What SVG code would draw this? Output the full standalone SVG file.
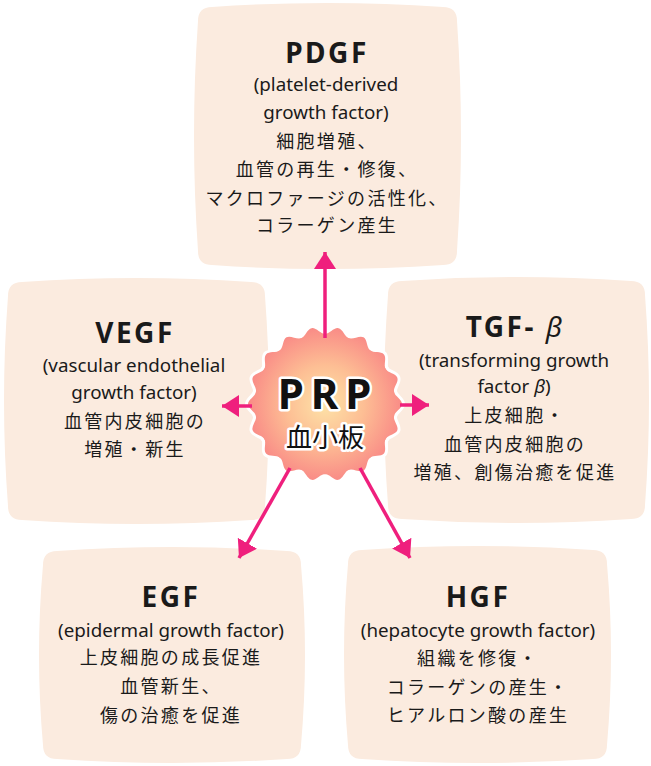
<svg xmlns="http://www.w3.org/2000/svg" width="651" height="766" viewBox="0 0 651 766">
<style>
.box{fill:#fbebdf}
.t{font-family:"Noto Sans","Noto Sans CJK JP",sans-serif;fill:#1a1a1a;text-anchor:middle}
.title{font-size:28px;font-weight:bold;letter-spacing:2.5px}
.en{font-size:18.8px}
.jp{font-family:"Noto Sans CJK JP",sans-serif;font-size:18px;letter-spacing:2.3px}
.beta{font-style:italic;font-weight:normal}
.conn{stroke:#ef1f7d;stroke-width:3.5;fill:none;marker-end:url(#ah)}
.prp{font-family:"Noto Sans","Noto Sans CJK JP",sans-serif;text-anchor:middle;fill:#111;stroke:#fff;stroke-width:5;stroke-linejoin:round;paint-order:stroke}
</style>
<defs>
<marker id="ah" viewBox="0 0 17 22" refX="17" refY="11" markerWidth="17" markerHeight="22" markerUnits="userSpaceOnUse" orient="auto">
<path d="M0,0 L17,11 L0,22 Z" fill="#ef1f7d"/>
</marker>
<radialGradient id="burstGrad" gradientUnits="userSpaceOnUse" cx="0" cy="0" r="78">
<stop offset="0" stop-color="#fde3a8"/>
<stop offset="0.5" stop-color="#fdbe94"/>
<stop offset="1" stop-color="#f98a86"/>
</radialGradient>
<path id="bump" d="M68.94,-12.16 C69.72,-7.73 77,-4.5 77,0 C77,4.5 69.72,7.73 68.94,12.16 L60,10.6 L60,-10.6 Z"/>
<g id="burstShape">
<circle cx="0" cy="0" r="70.2"/>
<use href="#bump"/>
<use href="#bump" transform="rotate(20)"/>
<use href="#bump" transform="rotate(40)"/>
<use href="#bump" transform="rotate(60)"/>
<use href="#bump" transform="rotate(80)"/>
<use href="#bump" transform="rotate(100)"/>
<use href="#bump" transform="rotate(120)"/>
<use href="#bump" transform="rotate(140)"/>
<use href="#bump" transform="rotate(160)"/>
<use href="#bump" transform="rotate(180)"/>
<use href="#bump" transform="rotate(200)"/>
<use href="#bump" transform="rotate(220)"/>
<use href="#bump" transform="rotate(240)"/>
<use href="#bump" transform="rotate(260)"/>
<use href="#bump" transform="rotate(280)"/>
<use href="#bump" transform="rotate(300)"/>
<use href="#bump" transform="rotate(320)"/>
<use href="#bump" transform="rotate(340)"/>
</g>
</defs>
<rect width="651" height="766" fill="#fff"/>

<g id="pdgf">
<path class="box" d="M212,7 Q327.5,-1 443,7 Q457,7 457,21 Q465,136 457,251 Q457,265 443,265 Q327.5,273 212,265 Q198,265 198,251 Q190,136 198,21 Q198,7 212,7 Z"/>
<text class="t title" x="327" y="63">PDGF</text>
<text class="t en" x="326" y="91">(platelet-derived</text>
<text class="t en" x="326" y="119">growth factor)</text>
<text class="t jp" x="327" y="148">細胞増殖、</text>
<text class="t jp" x="327" y="176">血管の再生・修復、</text>
<text class="t jp" x="327" y="205">マクロファージの活性化、</text>
<text class="t jp" x="327" y="232">コラーゲン産生</text>
</g>

<g id="vegf">
<path class="box" d="M22,282 Q136.5,274 251,282 Q265,282 265,296 Q273,401 265,506 Q265,520 251,520 Q136.5,528 22,520 Q8,520 8,506 Q0,401 8,296 Q8,282 22,282 Z"/>
<text class="t title" x="135" y="343">VEGF</text>
<text class="t en" x="134" y="372">(vascular endothelial</text>
<text class="t en" x="134" y="399">growth factor)</text>
<text class="t jp" x="135" y="428">血管内皮細胞の</text>
<text class="t jp" x="135" y="456">増殖・新生</text>
</g>

<g id="tgfb">
<path class="box" d="M402,281 Q516.5,273 631,281 Q645,281 645,295 Q653,400 645,505 Q645,519 631,519 Q516.5,527 402,519 Q388,519 388,505 Q380,400 388,295 Q388,281 402,281 Z"/>
<text class="t title" x="515" y="337">TGF-<tspan class="beta"> β</tspan></text>
<text class="t en" x="514" y="367">(transforming growth</text>
<text class="t en" x="514" y="393">factor <tspan font-style="italic">β</tspan>)</text>
<text class="t jp" x="515" y="422">上皮細胞・</text>
<text class="t jp" x="515" y="451">血管内皮細胞の</text>
<text class="t jp" x="515" y="479">増殖、創傷治癒を促進</text>
</g>

<g id="egf">
<path class="box" d="M57,551 Q172,543 287,551 Q301,551 301,565 Q309,655 301,745 Q301,759 287,759 Q172,767 57,759 Q43,759 43,745 Q35,655 43,565 Q43,551 57,551 Z"/>
<text class="t title" x="171" y="607">EGF</text>
<text class="t en" x="171" y="637">(epidermal growth factor)</text>
<text class="t jp" x="171" y="664">上皮細胞の成長促進</text>
<text class="t jp" x="171" y="693">血管新生、</text>
<text class="t jp" x="171" y="722">傷の治癒を促進</text>
</g>

<g id="hgf">
<path class="box" d="M362,550 Q477.5,542 593,550 Q607,550 607,564 Q615,654.5 607,745 Q607,759 593,759 Q477.5,767 362,759 Q348,759 348,745 Q340,654.5 348,564 Q348,550 362,550 Z"/>
<text class="t title" x="478" y="607">HGF</text>
<text class="t en" x="478" y="637">(hepatocyte growth factor)</text>
<text class="t jp" x="478" y="665">組織を修復・</text>
<text class="t jp" x="478" y="694">コラーゲンの産生・</text>
<text class="t jp" x="478" y="722">ヒアルロン酸の産生</text>
</g>

<g id="prp" transform="translate(325,404)">
<use href="#burstShape" fill="#fff" stroke="#fff" stroke-width="6" stroke-linejoin="round"/>
<use href="#burstShape" fill="url(#burstGrad)"/>
<text class="prp" x="3" y="5" font-size="42" font-weight="bold" letter-spacing="7">PRP</text>
<text class="prp" x="0" y="43" font-family="Noto Sans CJK JP" font-size="26">血小板</text>
</g>

<g id="connectors">
<line class="conn" x1="325" y1="338" x2="325" y2="252"/>
<line class="conn" x1="252" y1="406" x2="222" y2="406"/>
<line class="conn" x1="400" y1="405" x2="429" y2="405"/>
<line class="conn" x1="290" y1="468" x2="239" y2="558"/>
<line class="conn" x1="360" y1="468" x2="410" y2="558"/>
</g>
</svg>
